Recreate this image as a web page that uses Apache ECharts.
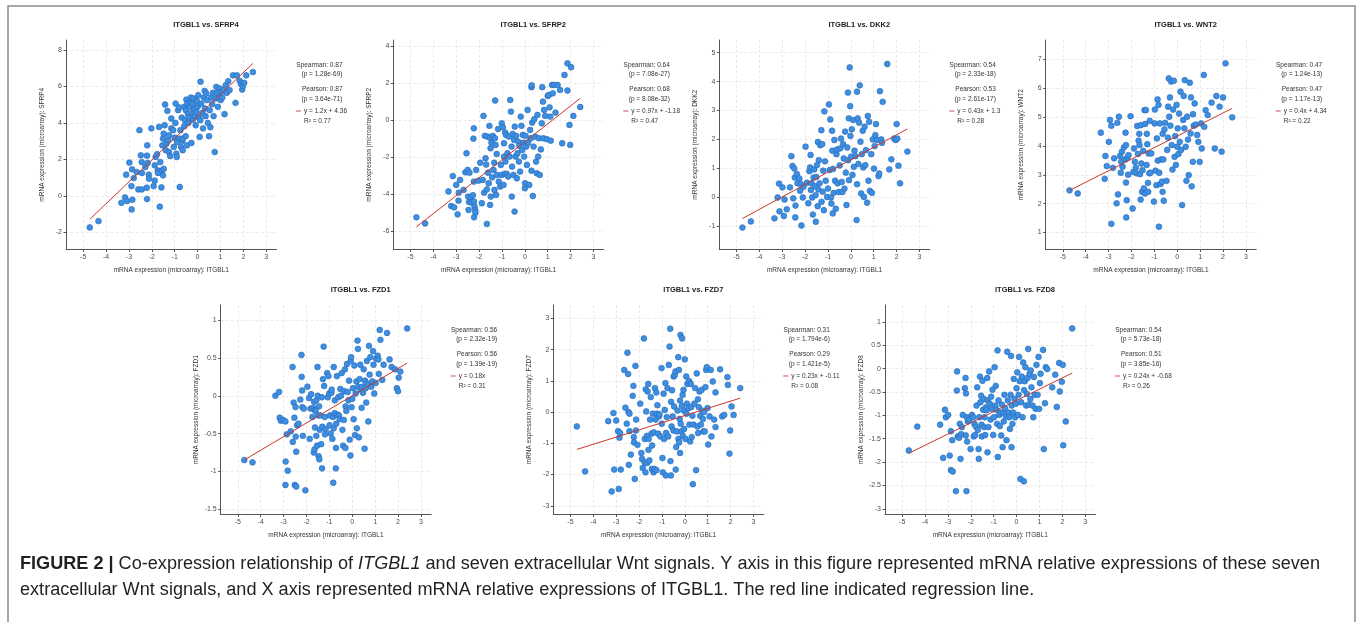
<!DOCTYPE html>
<html>
<head>
<meta charset="utf-8">
<title>ITGBL1 co-expression with Wnt signals</title>
<script src="https://cdn.jsdelivr.net/npm/echarts@6/dist/echarts.min.js"></script>
<style>
  html, body { margin: 0; padding: 0; background: #fff; }
  #chart { width: 1362px; height: 622px; }
</style>
</head>
<body>
<div id="chart"></div>
<script>
// x = ITGBL1, y = the Wnt signal; pairs
const sfrp4 = [[-4.71,-1.74],[-4.33,-1.39],[-3.33,-0.39],[-3.17,-0.09],[-3.08,-0.29],[-2.85,-0.22],[-2.88,-0.75],[-3.12,1.16],[-2.98,1.82],[-2.89,0.53],[-2.86,1.45],[-2.79,0.97],[-2.66,1.30],[-2.59,0.35],[-2.54,3.60],[-2.48,2.22],[-2.44,1.85],[-2.43,1.25],[-2.44,0.35],[-2.28,1.58],[-2.22,0.44],[-2.21,-0.18],[-2.20,2.77],[-2.21,2.20],[-2.18,1.80],[-2.13,1.16],[-2.12,0.94],[-2.02,3.70],[-1.92,0.53],[-1.87,0.83],[-1.87,1.67],[-1.83,2.13],[-1.77,2.28],[-1.74,1.39],[-1.73,1.25],[-1.68,3.78],[-1.65,-0.60],[-1.63,1.85],[-1.58,0.46],[-1.55,1.39],[-1.51,1.12],[-1.48,1.48],[-1.54,2.77],[-1.51,3.14],[-1.48,3.41],[-1.44,3.87],[-1.42,5.01],[-1.39,2.50],[-1.36,2.86],[-1.32,4.66],[-1.28,3.05],[-1.25,3.32],[-1.25,2.40],[-1.20,2.18],[-1.15,4.24],[-1.15,3.70],[-1.07,3.60],[-1.04,2.68],[-1.00,3.19],[-0.97,4.00],[-0.96,5.06],[-0.93,2.31],[-0.91,2.13],[-0.90,2.95],[-0.85,4.70],[-0.81,4.85],[-0.78,0.48],[-0.78,3.14],[-0.75,3.60],[-0.72,2.68],[-0.69,4.29],[-0.67,3.01],[-0.65,2.50],[-0.64,3.14],[-0.59,4.88],[-0.58,3.82],[-0.55,4.15],[-0.52,3.27],[-0.51,4.70],[-0.49,5.28],[-0.46,2.77],[-0.45,5.06],[-0.42,4.48],[-0.40,4.00],[-0.37,4.29],[-0.35,4.88],[-0.32,5.15],[-0.29,5.39],[-0.27,2.90],[-0.24,4.55],[-0.21,5.06],[-0.20,4.18],[-0.17,5.34],[-0.14,4.77],[-0.11,4.37],[-0.08,3.87],[-0.05,4.61],[-0.03,5.21],[0.00,4.88],[0.03,5.52],[0.06,4.29],[0.09,3.23],[0.12,4.15],[0.13,6.26],[0.16,5.06],[0.21,4.55],[0.24,3.70],[0.27,5.39],[0.31,5.76],[0.32,4.79],[0.35,4.37],[0.38,5.61],[0.41,5.25],[0.45,4.00],[0.50,3.27],[0.53,4.70],[0.56,3.76],[0.60,5.39],[0.64,5.03],[0.67,5.65],[0.70,4.37],[0.75,2.40],[0.79,5.34],[0.82,5.98],[0.85,5.65],[0.89,4.88],[0.93,5.39],[0.96,5.89],[1.01,5.25],[1.04,5.71],[1.08,5.39],[1.14,5.80],[1.18,4.48],[1.23,6.07],[1.28,5.65],[1.34,6.29],[1.40,5.80],[1.55,6.61],[1.66,5.10],[1.72,6.61],[1.84,6.31],[1.90,6.13],[1.95,5.83],[1.98,6.02],[2.04,6.20],[2.13,6.61],[2.42,6.79]];

const sfrp2 = [[-4.74,-5.26],[-4.36,-5.59],[-3.34,-3.86],[-3.22,-4.65],[-3.15,-3.03],[-3.09,-4.72],[-3.00,-3.51],[-2.94,-5.10],[-2.89,-3.93],[-2.90,-4.36],[-2.83,-3.24],[-2.68,-3.78],[-2.60,-2.83],[-2.55,-1.80],[-2.50,-2.70],[-2.48,-4.14],[-2.46,-4.86],[-2.44,-4.43],[-2.42,-2.85],[-2.36,-4.18],[-2.33,-4.47],[-2.27,-4.07],[-2.25,-1.01],[-2.23,-0.45],[-2.22,-4.41],[-2.20,-4.68],[-2.17,-4.86],[-2.16,-5.01],[-2.22,-5.26],[-2.23,-3.33],[-2.13,-2.70],[-2.03,-3.28],[-1.95,-2.31],[-1.88,-4.50],[-1.84,-3.24],[-1.81,0.22],[-1.78,-3.93],[-1.75,-0.86],[-1.72,-2.07],[-1.69,-2.41],[-1.66,-5.62],[-1.66,-3.75],[-1.63,-0.90],[-1.61,-2.85],[-1.58,-3.42],[-1.55,-0.32],[-1.53,-0.96],[-1.52,-4.59],[-1.50,-1.53],[-1.49,-4.14],[-1.46,-1.23],[-1.43,-3.10],[-1.40,-0.86],[-1.37,-2.70],[-1.34,-2.31],[-1.33,-3.78],[-1.31,-0.99],[-1.30,1.05],[-1.28,-1.35],[-1.26,-4.05],[-1.23,-1.84],[-1.21,-2.97],[-1.17,-0.49],[-1.14,-3.33],[-1.08,-3.60],[-1.05,-2.43],[-1.01,-0.18],[-1.01,-2.97],[-0.96,-0.40],[-0.93,-3.51],[-0.91,-1.26],[-0.91,-1.98],[-0.88,-2.91],[-0.86,-0.68],[-0.85,-2.25],[-0.82,-0.81],[-0.79,-2.91],[-0.76,-1.80],[-0.73,-3.06],[-0.70,-0.90],[-0.67,-1.98],[-0.64,1.08],[-0.61,0.45],[-0.58,-1.44],[-0.57,-4.14],[-0.56,-2.52],[-0.53,-0.76],[-0.50,-2.97],[-0.47,-1.08],[-0.45,-4.95],[-0.44,-0.36],[-0.41,-1.98],[-0.38,-0.86],[-0.35,-3.15],[-0.32,-1.80],[-0.29,-1.17],[-0.26,-2.25],[-0.24,-1.40],[-0.21,-2.79],[-0.18,0.18],[-0.15,-0.32],[-0.12,-1.62],[-0.09,-0.81],[-0.06,-1.23],[-0.03,-1.98],[0.00,-3.69],[0.01,-3.42],[0.03,-0.86],[0.06,-1.44],[0.09,-2.43],[0.12,0.54],[0.14,-1.23],[0.19,-3.51],[0.23,-0.54],[0.26,-0.99],[0.29,1.77],[0.30,1.87],[0.29,-2.74],[0.32,-0.14],[0.35,-4.11],[0.38,-1.44],[0.41,0.04],[0.45,-0.90],[0.49,-2.25],[0.52,-2.88],[0.55,0.27],[0.58,-1.98],[0.61,-0.99],[0.65,-2.97],[0.70,-1.59],[0.74,-0.18],[0.76,1.77],[0.79,0.99],[0.81,-0.99],[0.84,0.54],[0.89,0.22],[0.96,-1.04],[1.00,1.30],[1.05,1.35],[1.08,0.68],[1.11,0.18],[1.13,-1.12],[1.19,1.89],[1.22,1.44],[1.28,1.89],[1.34,0.40],[1.43,1.89],[1.54,1.62],[1.63,-1.26],[1.73,2.43],[1.86,3.06],[1.86,1.59],[1.95,-0.27],[1.98,-1.35],[2.02,2.85],[2.12,0.22],[2.42,0.70]];

const dkk2 = [[-4.74,-1.05],[-4.37,-0.84],[-3.34,-0.73],[-3.20,-0.01],[-3.12,-0.49],[-3.14,0.47],[-2.99,0.34],[-2.90,-0.08],[-2.93,-0.65],[-2.80,-0.42],[-2.66,0.34],[-2.60,1.42],[-2.55,1.08],[-2.52,-0.04],[-2.47,0.99],[-2.45,0.68],[-2.43,-0.70],[-2.42,-0.29],[-2.36,0.80],[-2.33,0.48],[-2.25,0.65],[-2.22,0.22],[-2.19,0.46],[-2.16,-0.98],[-2.10,-0.01],[-2.07,0.36],[-1.98,1.75],[-1.92,0.50],[-1.86,-0.21],[-1.81,0.90],[-1.78,1.03],[-1.76,1.46],[-1.75,0.25],[-1.72,0.48],[-1.69,-0.01],[-1.66,-0.60],[-1.63,0.68],[-1.60,0.96],[-1.57,0.38],[-1.54,0.07],[-1.53,-0.85],[-1.51,0.70],[-1.48,1.11],[-1.45,-0.31],[-1.44,1.91],[-1.42,0.27],[-1.40,1.28],[-1.37,0.48],[-1.34,1.80],[-1.29,2.32],[-1.28,-0.16],[-1.25,1.84],[-1.23,0.19],[-1.21,0.92],[-1.18,-0.45],[-1.16,2.97],[-1.13,1.24],[-1.10,0.57],[-1.04,0.01],[-1.00,0.30],[-0.96,3.21],[-0.93,0.94],[-0.90,2.69],[-0.87,-0.01],[-0.85,-0.22],[-0.82,2.30],[-0.81,1.61],[-0.79,-0.56],[-0.78,0.98],[-0.75,0.15],[-0.72,1.98],[-0.69,0.57],[-0.66,-0.40],[-0.63,1.49],[-0.60,1.65],[-0.58,0.48],[-0.53,0.18],[-0.49,1.10],[-0.46,1.69],[-0.43,2.03],[-0.40,0.53],[-0.37,0.18],[-0.34,1.84],[-0.31,1.34],[-0.28,0.30],[-0.25,2.27],[-0.22,0.85],[-0.19,-0.27],[-0.16,1.72],[-0.13,3.62],[-0.12,1.28],[-0.09,2.73],[-0.08,0.59],[-0.05,4.49],[-0.03,3.15],[-0.02,2.12],[0.01,1.40],[0.04,2.35],[0.07,0.77],[0.10,2.67],[0.13,1.05],[0.16,1.61],[0.20,1.42],[0.25,-0.79],[0.27,3.65],[0.27,0.45],[0.30,2.73],[0.33,1.15],[0.36,2.58],[0.39,3.87],[0.42,1.92],[0.45,0.13],[0.48,1.49],[0.52,2.30],[0.54,1.03],[0.57,0.01],[0.60,2.44],[0.63,1.11],[0.66,1.63],[0.71,-0.19],[0.74,2.81],[0.77,0.57],[0.80,2.61],[0.83,0.22],[0.89,1.49],[0.92,0.15],[0.96,2.00],[1.01,0.99],[1.04,1.77],[1.07,2.15],[1.10,2.53],[1.15,1.98],[1.21,0.73],[1.24,0.82],[1.27,3.67],[1.33,2.00],[1.36,1.88],[1.39,3.30],[1.59,4.61],[1.68,0.96],[1.77,1.31],[1.89,2.03],[1.96,1.98],[2.00,2.53],[2.03,2.03],[2.08,1.09],[2.15,0.48],[2.47,1.58]];

const wnt2 = [[-4.71,2.46],[-4.35,2.35],[-3.34,4.46],[-3.17,2.86],[-3.14,3.65],[-3.08,3.30],[-2.99,4.14],[-2.94,4.90],[-2.88,4.70],[-2.88,1.30],[-2.81,3.24],[-2.76,3.57],[-2.65,2.01],[-2.62,4.80],[-2.59,2.32],[-2.55,5.01],[-2.50,3.65],[-2.47,3.07],[-2.45,3.45],[-2.42,3.80],[-2.39,3.28],[-2.33,3.95],[-2.28,3.53],[-2.26,4.46],[-2.24,4.03],[-2.24,2.73],[-2.23,1.52],[-2.21,2.12],[-2.18,3.59],[-2.15,3.00],[-2.13,3.68],[-2.04,5.03],[-1.95,1.83],[-1.92,3.10],[-1.89,3.91],[-1.85,3.45],[-1.81,3.25],[-1.78,3.05],[-1.75,4.69],[-1.72,3.72],[-1.69,4.18],[-1.66,4.42],[-1.65,4.03],[-1.63,3.02],[-1.60,2.14],[-1.59,4.72],[-1.57,3.39],[-1.54,2.41],[-1.52,3.16],[-1.49,3.83],[-1.46,2.53],[-1.43,5.24],[-1.41,2.35],[-1.40,4.76],[-1.37,5.24],[-1.34,3.34],[-1.33,4.42],[-1.31,4.06],[-1.28,2.72],[-1.27,2.41],[-1.25,3.74],[-1.22,3.05],[-1.20,4.87],[-1.17,3.07],[-1.14,3.74],[-1.02,2.07],[-0.99,4.78],[-0.98,5.26],[-0.95,3.14],[-0.91,2.64],[-0.89,4.26],[-0.86,5.61],[-0.85,3.49],[-0.82,5.42],[-0.80,1.20],[-0.79,3.07],[-0.76,4.78],[-0.73,2.68],[-0.70,3.53],[-0.67,2.76],[-0.64,2.41],[-0.64,4.42],[-0.61,3.53],[-0.59,2.10],[-0.56,4.57],[-0.53,4.80],[-0.47,2.79],[-0.44,3.86],[-0.41,4.29],[-0.40,5.36],[-0.37,6.34],[-0.35,5.01],[-0.32,5.68],[-0.30,4.70],[-0.27,6.23],[-0.24,4.03],[-0.21,3.18],[-0.18,5.26],[-0.15,6.26],[-0.12,3.62],[-0.09,4.34],[-0.06,3.34],[-0.03,5.42],[0.00,3.97],[0.02,4.61],[0.05,3.72],[0.08,5.12],[0.11,4.14],[0.14,5.88],[0.17,3.86],[0.21,1.95],[0.26,4.90],[0.28,5.73],[0.31,4.61],[0.33,6.28],[0.37,3.97],[0.40,2.79],[0.43,5.01],[0.47,4.22],[0.50,2.99],[0.55,6.19],[0.58,4.43],[0.60,5.68],[0.63,2.60],[0.68,3.45],[0.69,5.10],[0.72,4.70],[0.76,5.47],[0.81,4.74],[0.87,4.38],[0.92,4.14],[0.98,3.45],[1.04,4.78],[1.07,3.91],[1.16,6.46],[1.18,4.66],[1.24,5.24],[1.33,5.07],[1.50,5.50],[1.64,3.91],[1.71,5.73],[1.85,5.36],[1.94,3.80],[2.00,5.68],[2.11,6.86],[2.40,4.99]];

const fzd1 = [[-4.72,-0.85],[-4.36,-0.88],[-3.36,0.00],[-3.20,0.05],[-3.17,-0.29],[-3.12,-0.33],[-3.02,-0.32],[-2.92,-0.34],[-2.91,-0.87],[-2.92,-1.18],[-2.86,-0.51],[-2.82,-0.99],[-2.69,-0.47],[-2.61,0.38],[-2.60,-0.61],[-2.56,-0.09],[-2.53,-0.29],[-2.51,-1.18],[-2.48,-0.15],[-2.47,-0.54],[-2.45,-0.74],[-2.45,-1.20],[-2.41,-0.39],[-2.35,-0.37],[-2.27,-0.05],[-2.22,0.54],[-2.21,0.25],[-2.19,0.07],[-2.18,-0.15],[-2.16,-0.53],[-2.12,-0.17],[-2.05,-1.25],[-1.96,0.12],[-1.89,-0.03],[-1.86,-0.57],[-1.83,-0.17],[-1.80,0.02],[-1.74,-0.28],[-1.71,-0.16],[-1.68,-0.75],[-1.67,-0.08],[-1.65,-0.71],[-1.64,-0.19],[-1.63,-0.42],[-1.60,-0.20],[-1.57,-0.06],[-1.57,-0.53],[-1.54,-0.66],[-1.52,0.38],[-1.51,0.00],[-1.49,-0.26],[-1.47,-0.80],[-1.45,-0.14],[-1.44,-0.84],[-1.42,-0.45],[-1.39,-0.26],[-1.36,-0.64],[-1.33,-0.02],[-1.32,-0.96],[-1.31,-0.41],[-1.28,0.22],[-1.25,0.65],[-1.23,0.13],[-1.20,-0.28],[-1.19,-0.51],[-1.16,-0.44],[-1.10,0.30],[-1.07,-0.02],[-1.04,0.26],[-1.01,0.03],[-0.99,-0.39],[-0.97,-0.26],[-0.94,-0.50],[-0.91,0.04],[-0.90,0.08],[-0.87,-0.57],[-0.84,-0.28],[-0.83,-1.15],[-0.81,0.38],[-0.81,-0.43],[-0.77,-0.23],[-0.76,-0.06],[-0.72,-0.96],[-0.71,-0.69],[-0.70,-0.37],[-0.67,0.26],[-0.64,-0.25],[-0.61,-0.02],[-0.58,-0.26],[-0.55,-0.31],[-0.52,0.09],[-0.49,0.00],[-0.46,0.30],[-0.43,-0.45],[-0.40,-0.66],[-0.37,-0.32],[-0.34,0.06],[-0.32,0.35],[-0.30,-0.69],[-0.29,-0.14],[-0.26,-0.20],[-0.23,0.42],[-0.20,0.05],[-0.17,-0.06],[-0.14,0.20],[-0.11,-0.58],[-0.08,-0.79],[-0.07,0.46],[-0.05,0.51],[-0.03,-0.15],[0.00,-0.04],[0.03,0.10],[0.06,-0.31],[0.09,0.40],[0.12,-0.52],[0.15,0.03],[0.18,0.19],[0.20,-0.43],[0.23,0.73],[0.25,0.62],[0.26,0.12],[0.29,-0.55],[0.32,0.22],[0.35,0.41],[0.38,0.08],[0.41,-0.16],[0.44,0.12],[0.47,0.04],[0.50,0.35],[0.54,-0.70],[0.56,0.20],[0.59,0.10],[0.61,-0.09],[0.64,0.46],[0.67,0.16],[0.70,-0.34],[0.73,0.66],[0.76,0.28],[0.79,0.51],[0.83,0.12],[0.88,0.19],[0.91,0.59],[0.93,0.41],[0.96,0.03],[1.02,0.17],[1.05,0.49],[1.11,0.53],[1.14,0.48],[1.16,0.29],[1.20,0.87],[1.23,0.74],[1.31,0.21],[1.37,0.41],[1.52,0.83],[1.63,0.48],[1.72,0.38],[1.87,0.35],[1.95,0.10],[2.00,0.06],[2.03,0.24],[2.10,0.32],[2.40,0.89]];

const fzd7 = [[-4.72,-0.46],[-4.36,-1.90],[-3.35,-0.29],[-3.20,-2.54],[-3.12,-0.03],[-3.09,-1.84],[-3.00,-0.27],[-2.92,-0.61],[-2.89,-2.46],[-2.86,-0.82],[-2.83,-0.67],[-2.80,-1.84],[-2.65,1.35],[-2.60,0.14],[-2.54,-0.37],[-2.51,1.90],[-2.48,1.22],[-2.46,0.00],[-2.45,-1.69],[-2.42,-0.05],[-2.42,-0.61],[-2.36,-1.36],[-2.28,0.52],[-2.25,0.84],[-2.23,-0.80],[-2.22,-0.97],[-2.19,-2.14],[-2.16,1.48],[-2.14,-0.59],[-2.13,-0.24],[-2.07,-1.05],[-1.95,0.27],[-1.90,-1.31],[-1.87,-1.50],[-1.84,-1.79],[-1.79,2.36],[-1.76,-1.61],[-1.75,-0.86],[-1.72,-1.93],[-1.71,0.73],[-1.69,0.02],[-1.66,-0.76],[-1.65,-1.63],[-1.63,0.66],[-1.60,0.90],[-1.59,-1.21],[-1.58,-0.86],[-1.55,-1.55],[-1.52,-0.24],[-1.49,0.48],[-1.46,-0.69],[-1.44,-1.82],[-1.43,-1.07],[-1.40,-0.05],[-1.37,-1.93],[-1.36,-0.65],[-1.33,-1.82],[-1.31,0.77],[-1.28,-0.24],[-1.25,0.63],[-1.24,-1.86],[-1.23,-0.05],[-1.20,0.22],[-1.17,-0.69],[-1.14,-0.14],[-1.11,-0.07],[-1.07,-0.78],[-1.02,1.41],[-1.01,-0.37],[-0.98,-1.47],[-0.96,-1.93],[-0.93,0.59],[-0.91,-0.86],[-0.88,0.07],[-0.85,0.93],[-0.83,-2.03],[-0.82,-0.67],[-0.79,-0.16],[-0.76,0.77],[-0.73,-0.78],[-0.70,1.51],[-0.67,2.10],[-0.64,2.67],[-0.63,-1.57],[-0.61,-2.03],[-0.60,0.33],[-0.58,-0.46],[-0.56,0.70],[-0.53,-0.14],[-0.50,-0.59],[-0.49,1.14],[-0.47,0.18],[-0.44,1.19],[-0.41,1.30],[-0.40,-1.84],[-0.38,-1.12],[-0.35,-0.62],[-0.32,0.05],[-0.29,1.76],[-0.28,-0.86],[-0.26,1.35],[-0.25,-0.97],[-0.23,-0.22],[-0.21,-1.31],[-0.21,0.37],[-0.19,2.47],[-0.18,-0.37],[-0.15,-0.62],[-0.13,0.20],[-0.12,2.36],[-0.10,0.55],[-0.09,-0.76],[-0.06,0.71],[-0.05,0.05],[-0.03,-0.54],[0.00,1.69],[0.03,-0.86],[0.06,1.14],[0.07,-0.05],[0.09,0.27],[0.11,0.90],[0.16,0.13],[0.19,0.99],[0.20,-0.40],[0.23,-0.94],[0.26,0.90],[0.28,0.16],[0.30,-0.80],[0.33,-0.12],[0.35,-2.31],[0.38,-0.40],[0.41,0.27],[0.45,0.77],[0.49,-1.86],[0.52,1.24],[0.55,-0.46],[0.57,0.41],[0.58,-0.67],[0.61,0.16],[0.64,0.66],[0.67,-0.12],[0.70,-0.40],[0.73,0.71],[0.76,0.05],[0.79,-0.22],[0.81,-0.62],[0.84,0.00],[0.87,-0.62],[0.90,0.80],[0.93,1.35],[0.96,1.44],[0.99,0.13],[1.02,-1.04],[1.08,-0.14],[1.13,1.35],[1.16,-0.78],[1.22,0.98],[1.28,-0.24],[1.34,0.63],[1.34,-0.48],[1.54,1.37],[1.63,-0.14],[1.72,-0.09],[1.86,1.12],[1.88,0.87],[1.95,-1.33],[1.98,-0.59],[2.04,0.18],[2.13,-0.09],[2.42,0.77]];

const fzd8 = [[-4.71,-1.75],[-4.34,-1.24],[-3.34,-1.20],[-3.21,-1.91],[-3.13,-0.88],[-3.09,-1.04],[-2.99,-0.99],[-2.92,-1.86],[-2.87,-1.34],[-2.87,-2.17],[-2.81,-1.53],[-2.79,-2.20],[-2.65,-2.62],[-2.61,-0.47],[-2.60,-0.06],[-2.57,-1.45],[-2.51,-1.48],[-2.48,-1.18],[-2.45,-1.93],[-2.42,-1.40],[-2.39,-1.25],[-2.35,-0.99],[-2.26,-0.42],[-2.23,-0.20],[-2.22,-1.43],[-2.21,-0.53],[-2.19,-2.62],[-2.17,-1.04],[-2.16,-1.56],[-2.13,-1.13],[-2.07,-1.09],[-2.01,-1.72],[-1.95,-0.99],[-1.90,-1.04],[-1.87,-1.45],[-1.84,-1.18],[-1.81,-1.42],[-1.78,-1.24],[-1.75,-0.79],[-1.72,-0.40],[-1.69,-1.31],[-1.66,-1.72],[-1.65,-1.93],[-1.63,-1.04],[-1.60,-0.17],[-1.58,-0.72],[-1.55,-0.58],[-1.53,-1.20],[-1.52,-1.45],[-1.49,-0.26],[-1.46,-0.88],[-1.43,-0.65],[-1.42,-1.25],[-1.40,-1.04],[-1.37,-1.42],[-1.34,-0.83],[-1.31,-0.89],[-1.28,-0.20],[-1.27,-1.79],[-1.26,-0.68],[-1.23,-1.25],[-1.20,-0.06],[-1.17,-0.75],[-1.14,-1.09],[-1.11,-0.60],[-1.08,-0.86],[-1.05,-0.45],[-1.02,-1.42],[-0.99,-1.04],[-0.96,0.03],[-0.93,-0.79],[-0.91,-0.37],[-0.88,-0.88],[-0.85,-1.18],[-0.83,0.39],[-0.82,-1.89],[-0.79,-0.68],[-0.76,-0.99],[-0.73,-1.23],[-0.70,-0.94],[-0.67,-1.43],[-0.64,-0.77],[-0.61,-1.68],[-0.58,-0.94],[-0.56,-1.13],[-0.53,-0.56],[-0.50,-0.85],[-0.47,-1.02],[-0.44,-1.53],[-0.41,0.36],[-0.38,-0.68],[-0.35,-0.94],[-0.32,-1.04],[-0.29,-1.29],[-0.26,-0.56],[-0.24,0.27],[-0.22,-1.68],[-0.21,-0.79],[-0.18,-1.18],[-0.15,-0.94],[-0.12,-0.22],[-0.09,-0.65],[-0.06,-1.04],[-0.03,-0.75],[0.00,-0.42],[0.03,-0.08],[0.06,-0.99],[0.09,-0.56],[0.11,0.25],[0.14,-0.27],[0.17,-2.36],[0.20,-0.72],[0.23,-0.17],[0.26,-1.04],[0.29,0.13],[0.32,-2.41],[0.33,-0.46],[0.36,-0.27],[0.39,0.03],[0.42,-0.79],[0.45,-0.54],[0.48,-0.20],[0.51,0.42],[0.54,-0.77],[0.57,-0.11],[0.60,-0.65],[0.62,-0.04],[0.65,-0.40],[0.70,-0.79],[0.73,-1.04],[0.76,-0.18],[0.79,-0.56],[0.83,-0.86],[0.87,0.08],[0.92,-0.56],[0.96,0.25],[0.99,-0.86],[1.02,-0.31],[1.05,-0.11],[1.16,0.40],[1.19,-1.72],[1.24,-0.74],[1.28,0.03],[1.34,-0.01],[1.56,-0.40],[1.69,-0.13],[1.76,-0.82],[1.86,0.12],[1.89,-0.49],[1.98,-0.28],[2.02,0.08],[2.04,-1.64],[2.15,-1.13],[2.43,0.86]];

const genes = ['SFRP4', 'SFRP2', 'DKK2', 'WNT2', 'FZD1', 'FZD7', 'FZD8'];
const points = [sfrp4, sfrp2, dkk2, wnt2, fzd1, fzd7, fzd8];
const spearman = ['0.87', '0.64', '0.54', '0.47', '0.56', '0.31', '0.54'];
const spearmanP = ['1.28e-69', '7.08e-27', '2.33e-18', '1.24e-13', '2.32e-19', '1.794e-6', '5.73e-18'];
const pearson = ['0.87', '0.68', '0.53', '0.47', '0.56', '0.29', '0.51'];
const pearsonP = ['3.64e-71', '8.08e-32', '2.61e-17', '1.17e-13', '1.39e-19', '1.421e-5', '3.85e-16'];
const slopes = [1.2, 0.97, 0.43, 0.4, 0.18, 0.23, 0.24];
const intercepts = [4.36, -1.18, 1.3, 4.34, 0, -0.11, -0.68];
const rSquared = ['0.77', '0.47', '0.28', '0.22', '0.31', '0.08', '0.26'];

const xTicks = [-5, -4, -3, -2, -1, 0, 1, 2, 3];
const yTicks = [
  [-2, 0, 2, 4, 6, 8],
  [-6, -4, -2, 0, 2, 4],
  [-1, 0, 1, 2, 3, 4, 5],
  [1, 2, 3, 4, 5, 6, 7],
  [-1.5, -1, -0.5, 0, 0.5, 1],
  [-3, -2, -1, 0, 1, 2, 3],
  [-3, -2.5, -2, -1.5, -1, -0.5, 0, 0.5, 1]
];
const xRange = [-5.75, 3.45];
const yRanges = [[-2.95, 8.55], [-7, 4.32], [-1.81, 5.44], [0.41, 7.67], [-1.57, 1.2], [-3.28, 3.43], [-3.12, 1.36]];

// layout of the seven plot areas (px)
const plotLeft = [66, 393.3, 719.3, 1045.7, 220.7, 553.3, 885];
const plotTop = [40, 40, 40, 40, 305, 305, 305];
const plotW = 210.5;
const plotH = 209.5;

const FONT = '"Liberation Sans", Arial, Helvetica, sans-serif';
const CAP_FONT = '"Liberation Sans Narrow", "Arial Narrow", "Liberation Sans", Arial, sans-serif';
const axisGray = '#4d4d4d';

const chart = echarts.init(document.getElementById('chart'));

const grids = [], xAxes = [], yAxes = [], series = [], graphics = [];

// frame around the figure
graphics.push({
  type: 'rect', silent: true,
  shape: { x: 8, y: 6, width: 1347, height: 640 },
  style: { fill: 'none', stroke: '#8a8a8a', lineWidth: 1.5 }
});

genes.forEach((gene, i) => {
  grids.push({ left: plotLeft[i], top: plotTop[i], width: plotW, height: plotH });
  xAxes.push({
    type: 'value', gridIndex: i, min: xRange[0], max: xRange[1],
    name: 'mRNA expression (microarray): ITGBL1',
    nameLocation: 'middle', nameGap: 17,
    nameTextStyle: { fontFamily: FONT, fontSize: 6.5, color: '#333' },
    axisLine: { show: true, onZero: false, lineStyle: { color: '#555', width: 1 } },
    axisTick: { show: true, length: 2.5, customValues: xTicks, lineStyle: { color: '#555' } },
    axisLabel: { customValues: xTicks, fontFamily: FONT, fontSize: 7, color: axisGray, margin: 4 },
    splitLine: { show: true, lineStyle: { color: '#e6e6e6', type: [3, 2], width: 0.8 } }
  });
  yAxes.push({
    type: 'value', gridIndex: i, min: yRanges[i][0], max: yRanges[i][1],
    name: 'mRNA expression (microarray): ' + gene,
    nameLocation: 'middle', nameGap: 20.5, nameRotate: 90,
    nameTextStyle: { fontFamily: FONT, fontSize: 6.5, color: '#333' },
    axisLine: { show: true, onZero: false, lineStyle: { color: '#555', width: 1 } },
    axisTick: { show: true, length: 2.5, customValues: yTicks[i], lineStyle: { color: '#555' } },
    axisLabel: { customValues: yTicks[i], fontFamily: FONT, fontSize: 7, color: axisGray, margin: 4 },
    splitLine: { show: true, lineStyle: { color: '#e6e6e6', type: [3, 2], width: 0.8 } }
  });

  series.push({
    type: 'scatter', xAxisIndex: i, yAxisIndex: i,
    data: points[i], symbolSize: 5.8,
    itemStyle: { color: '#3d8fe2', borderColor: '#2666b5', borderWidth: 0.6, opacity: 1 },
    z: 2
  });

  // regression line over the range of ITGBL1 values
  const xs = points[i].map(p => p[0]);
  const x0 = Math.min(...xs), x1 = Math.max(...xs);
  series.push({
    type: 'line', xAxisIndex: i, yAxisIndex: i,
    data: [[x0, slopes[i] * x0 + intercepts[i]], [x1, slopes[i] * x1 + intercepts[i]]],
    showSymbol: false, silent: true,
    lineStyle: { color: '#c9372c', width: 1 },
    z: 3
  });

  const L = plotLeft[i], T = plotTop[i], R = L + plotW;
  graphics.push({
    type: 'text', silent: true, x: L + 140, y: T - 15,
    style: { text: 'ITGBL1 vs. ' + gene, font: 'bold 7.5px ' + FONT, fill: '#222', align: 'center', verticalAlign: 'middle' }
  });
  const statLines = ['Spearman: ' + spearman[i], '(p = ' + spearmanP[i] + ')', 'Pearson: ' + pearson[i], '(p = ' + pearsonP[i] + ')'];
  const statDy = [25, 34.5, 49, 59];
  statLines.forEach((s, k) => {
    graphics.push({
      type: 'text', silent: true, x: R + 66, y: T + statDy[k],
      style: { text: s, font: '6.5px ' + FONT, fill: '#333', align: 'right', verticalAlign: 'middle' }
    });
  });
  const eq = intercepts[i] === 0 ? 'y = ' + slopes[i] + 'x' : 'y = ' + slopes[i] + 'x + ' + intercepts[i];
  graphics.push({
    type: 'line', silent: true,
    shape: { x1: R + 19.5, y1: T + 71, x2: R + 24.5, y2: T + 71 },
    style: { stroke: '#d46a6a', lineWidth: 1.2 }
  });
  graphics.push({
    type: 'text', silent: true, x: R + 27.5, y: T + 71,
    style: { text: eq, font: '6.5px ' + FONT, fill: '#333', align: 'left', verticalAlign: 'middle' }
  });
  graphics.push({
    type: 'text', silent: true, x: R + 27.5, y: T + 81,
    style: { text: 'R² = ' + rSquared[i], font: '6.5px ' + FONT, fill: '#333', align: 'left', verticalAlign: 'middle' }
  });
});

// caption: measure with canvas so the condensed face can be fitted with scaleX
const capSize = 18;
const capFont = capSize + 'px ' + CAP_FONT;
const capBold = 'bold ' + capSize + 'px ' + CAP_FONT;
const capItalic = 'italic ' + capSize + 'px ' + CAP_FONT;
const ctx = document.createElement('canvas').getContext('2d');
function w(str, font) { ctx.font = font; return ctx.measureText(str).width; }
const cap1 = ['FIGURE 2 | ', 'Co-expression relationship of ', 'ITGBL1', ' and seven extracellular Wnt signals. Y axis in this figure represented mRNA relative expressions of these seven'];
const cap2 = 'extracellular Wnt signals, and X axis represented mRNA relative expressions of ITGBL1. The red line indicated regression line.';
const cap1Width = w(cap1[0], capBold) + w(cap1[1], capFont) + w(cap1[2], capItalic) + w(cap1[3], capFont);
const capScale = 1300 / cap1Width;
const rich = {
  b: { font: capBold, fill: '#231f20' },
  n: { font: capFont, fill: '#231f20' },
  i: { font: capItalic, fill: '#231f20' }
};
graphics.push({
  type: 'text', silent: true, x: 20, y: 564, scaleX: capScale,
  style: { text: '{b|' + cap1[0] + '}{n|' + cap1[1] + '}{i|' + cap1[2] + '}{n|' + cap1[3] + '}', rich: rich, verticalAlign: 'middle', align: 'left' }
});
graphics.push({
  type: 'text', silent: true, x: 20, y: 590, scaleX: capScale,
  style: { text: '{n|' + cap2 + '}', rich: rich, verticalAlign: 'middle', align: 'left' }
});

chart.setOption({
  animation: false,
  backgroundColor: '#fff',
  grid: grids,
  xAxis: xAxes,
  yAxis: yAxes,
  series: series,
  graphic: graphics
});
</script>
</body>
</html>
